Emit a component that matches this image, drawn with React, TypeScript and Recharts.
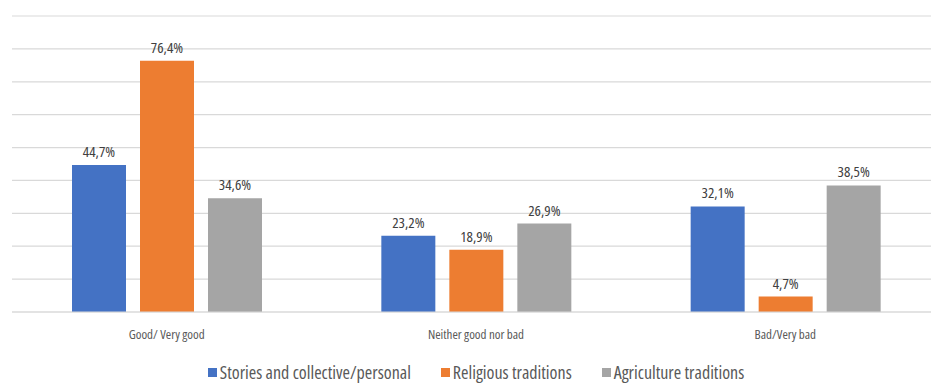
import React from 'react';
import {
  BarChart, Bar, XAxis, YAxis, CartesianGrid, Legend, LabelList,
} from 'recharts';

const categories = ['Good/ Very good', 'Neither good nor bad', 'Bad/Very bad'];
const stories = [44.7, 23.2, 32.1];
const religious = [76.4, 18.9, 4.7];
const agriculture = [34.6, 26.9, 38.5];
const yTicks = [0, 10, 20, 30, 40, 50, 60, 70, 80, 90];

const series = [
  { key: 'stories', name: 'Stories and collective/personal', color: '#4472C4' },
  { key: 'religious', name: 'Religious traditions', color: '#ED7D31' },
  { key: 'agriculture', name: 'Agriculture traditions', color: '#A5A5A5' },
];

const data = categories.map((name, i) => ({
  name,
  stories: stories[i],
  religious: religious[i],
  agriculture: agriculture[i],
}));

const FONT = "'Open Sans', sans-serif";
const STRETCH = '82%';

const fmtPct = (v: any) => `${Number(v).toFixed(1).replace('.', ',')}%`;

function LegendRow() {
  return (
    <div style={{ display: 'flex', justifyContent: 'center', gap: 30, paddingTop: 21, fontFamily: FONT, fontStretch: STRETCH, fontSize: 18, color: '#595959', lineHeight: '18px' }}>
      {series.map(s => (
        <span key={s.key} style={{ display: 'flex', alignItems: 'center' }}>
          <span style={{ display: 'inline-block', width: 9, height: 9, background: s.color, marginRight: 3 }} />
          {s.name}
        </span>
      ))}
    </div>
  );
}

export default function App() {
  return (
    <div style={{ position: 'absolute', left: 0, top: 0, width: 931, height: 383, overflow: 'hidden', background: '#fff' }}>
      <BarChart
        width={945}
        height={383}
        data={data}
        margin={{ top: 16, right: 5, bottom: 0, left: 12 }}
        barSize={54}
        barGap={14}
      >
        <CartesianGrid vertical={false} stroke="#d9d9d9" strokeWidth={1.2} />
        <YAxis hide domain={[0, 90]} ticks={yTicks} />
        <XAxis
          dataKey="name"
          height={30}
          axisLine={{ stroke: '#d9d9d9', strokeWidth: 1.2 }}
          tickLine={false}
          tickSize={0}
          tickMargin={18}
          tick={{ fontSize: 13, fill: '#595959', fontFamily: FONT, style: { fontStretch: STRETCH } }}
        />
        <Legend verticalAlign="bottom" height={41} content={() => <LegendRow />} />
        {series.map(s => (
          <Bar key={s.key} dataKey={s.key} name={s.name} fill={s.color} isAnimationActive={false}>
            <LabelList
              dataKey={s.key}
              position="top"
              offset={8}
              formatter={fmtPct}
              style={{ fontSize: 15, fill: '#404040', fontFamily: FONT, fontStretch: STRETCH }}
            />
          </Bar>
        ))}
      </BarChart>
    </div>
  );
}
